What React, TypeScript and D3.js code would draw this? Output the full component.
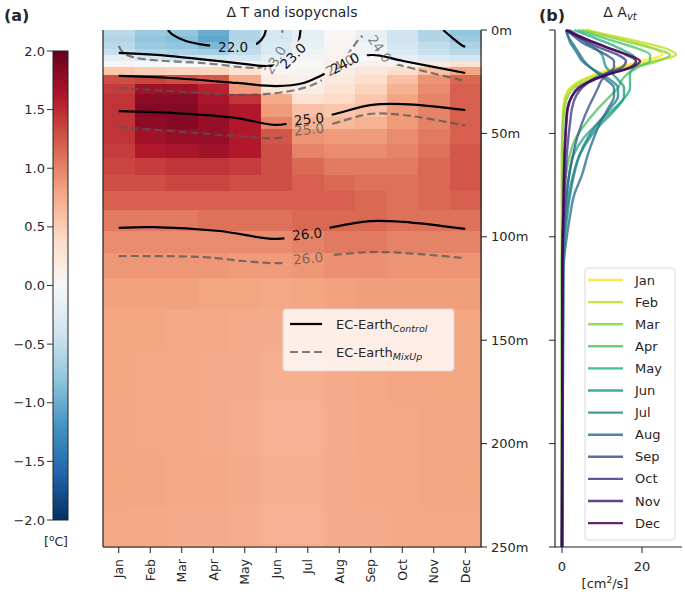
import React from 'react'
import * as d3 from 'd3'

// ---- data ----
const months = ['Jan', 'Feb', 'Mar', 'Apr', 'May', 'Jun', 'Jul', 'Aug', 'Sep', 'Oct', 'Nov', 'Dec']
const depthTicks = [0, 50, 100, 150, 200, 250]
const cbarTicks = [2.0, 1.5, 1.0, 0.5, 0.0, -0.5, -1.0, -1.5, -2.0]
const profTicks = [0, 20]

// heatmap rows (depth edges in m) and ΔT per month
const depthEdges = [0, 3, 6, 9, 12, 15, 18, 22, 26, 31, 36, 42, 48, 55, 62, 70, 78, 87, 97, 108, 120, 135, 155, 180, 205, 230, 250]
const dT = [
  [-0.55, -0.75, -0.8, -1.0, -0.6, -0.35, -0.2, 0.0, -0.15, -0.4, -0.6, -0.8],
  [-0.6, -0.8, -0.85, -1.05, -0.6, -0.35, -0.2, 0.02, -0.15, -0.4, -0.6, -0.75],
  [-0.55, -0.75, -0.8, -0.9, -0.55, -0.3, -0.15, 0.05, -0.1, -0.35, -0.5, -0.65],
  [-0.45, -0.6, -0.65, -0.7, -0.5, -0.3, -0.1, 0.05, -0.1, -0.3, -0.45, -0.55],
  [-0.2, -0.35, -0.4, -0.4, -0.35, -0.2, -0.05, 0.08, 0.0, -0.2, -0.3, -0.35],
  [0.05, 0.0, 0.0, 0.0, -0.05, -0.1, 0.0, 0.1, 0.1, 0.1, 0.2, 0.3],
  [0.55, 0.5, 0.45, 0.45, 0.3, 0.05, 0.05, 0.15, 0.25, 0.35, 0.6, 0.8],
  [1.3, 1.35, 1.3, 1.25, 0.75, 0.15, 0.1, 0.2, 0.35, 0.6, 0.9, 1.15],
  [1.4, 1.7, 1.7, 1.55, 0.85, 0.25, 0.15, 0.3, 0.45, 0.7, 0.95, 1.2],
  [1.45, 1.8, 1.8, 1.65, 1.45, 0.75, 0.3, 0.4, 0.55, 0.8, 1.0, 1.2],
  [1.45, 1.85, 1.85, 1.7, 1.6, 0.85, 0.6, 0.55, 0.6, 0.85, 1.0, 1.2],
  [1.45, 1.8, 1.85, 1.75, 1.6, 1.0, 0.7, 0.65, 0.7, 0.85, 1.0, 1.2],
  [1.45, 1.7, 1.75, 1.75, 1.6, 1.25, 0.9, 0.85, 0.85, 0.95, 1.05, 1.2],
  [1.4, 1.6, 1.65, 1.7, 1.6, 1.3, 1.0, 0.95, 0.95, 1.0, 1.1, 1.25],
  [1.35, 1.4, 1.45, 1.45, 1.4, 1.3, 1.15, 1.05, 1.05, 1.05, 1.15, 1.25],
  [1.3, 1.3, 1.35, 1.35, 1.3, 1.3, 1.2, 1.15, 1.1, 1.1, 1.15, 1.25],
  [1.2, 1.2, 1.2, 1.2, 1.2, 1.2, 1.2, 1.2, 1.15, 1.1, 1.15, 1.2],
  [1.05, 1.05, 1.05, 1.1, 1.1, 1.1, 1.15, 1.15, 1.15, 1.1, 1.1, 1.1],
  [0.95, 0.95, 0.95, 0.95, 0.95, 0.95, 1.0, 1.05, 1.05, 1.0, 1.0, 1.0],
  [0.88, 0.88, 0.88, 0.88, 0.85, 0.85, 0.88, 0.92, 0.92, 0.9, 0.9, 0.9],
  [0.82, 0.82, 0.82, 0.8, 0.8, 0.78, 0.8, 0.82, 0.84, 0.84, 0.84, 0.84],
  [0.8, 0.8, 0.78, 0.78, 0.76, 0.75, 0.76, 0.78, 0.8, 0.8, 0.8, 0.8],
  [0.8, 0.78, 0.77, 0.76, 0.75, 0.72, 0.72, 0.76, 0.78, 0.79, 0.8, 0.8],
  [0.79, 0.78, 0.77, 0.76, 0.74, 0.71, 0.71, 0.75, 0.77, 0.78, 0.79, 0.79],
  [0.8, 0.79, 0.78, 0.77, 0.75, 0.72, 0.72, 0.76, 0.77, 0.78, 0.79, 0.8],
  [0.78, 0.77, 0.76, 0.76, 0.74, 0.71, 0.71, 0.75, 0.76, 0.77, 0.78, 0.78],
]

// isopycnals as [month index, depth m]
const ctl22a = [[1.56, 0], [1.72, 2.4], [2.13, 5.3], [2.77, 7.3], [3.2, 7.9], [3.63, 8.2], [4.1, 7.8], [4.42, 6.3], [4.61, 2.9], [4.67, 0]]
const ctl22b = [[10.3, 0], [10.52, 2.9], [10.93, 7.7], [11, 8]]
const ctl23 = [[0, 11.1], [1.65, 12.6], [3.75, 16], [4.7, 17.4], [5.2, 16.5], [5.53, 12.5], [5.72, 5], [5.77, 0]]
const ctl24 = [[0, 22.2], [1.65, 23.2], [3.75, 25.6], [5, 27.1], [5.87, 25.6], [6.4, 22.2], [7.18, 16], [8, 12.1], [9.03, 15], [11, 20.8]]
const ctl25 = [[0, 39.2], [1.65, 40.1], [3.75, 42.6], [5, 45.9], [6.04, 43], [6.87, 40.6], [7.98, 36.3], [9.03, 35.8], [11, 38.7]]
const ctl26 = [[0, 95.7], [1.1, 95.3], [3.2, 97.2], [5, 101], [5.98, 98.6], [6.8, 95.3], [7.98, 92.4], [9.03, 92.8], [11, 96.2]]
const mix23 = [[0, 7.7], [0.15, 11.1], [0.55, 13.5], [2.7, 16], [4.6, 17.9], [4.96, 14.5], [5.12, 7], [5.2, 0]]
const mix24 = [[0, 28], [1.65, 29.5], [3.75, 31.4], [5, 30.5], [5.87, 28], [6.4, 24.7], [7.02, 17], [7.45, 8], [7.75, 3], [8.05, 6], [8.29, 11], [8.45, 15], [9.03, 17.4], [11, 24.7]]
const mix25 = [[0, 47], [1.65, 48.8], [3.75, 51.3], [5.1, 52.2], [6.04, 48], [6.75, 45.5], [7.98, 40.6], [9.03, 41.1], [11, 46.2]]
const mix26 = [[0, 109.3], [2.7, 109.8], [3.95, 111.7], [5.1, 112.7], [6.01, 110.3], [6.8, 108.8], [7.98, 107.4], [9.03, 107.8], [11, 110.3]]
const ctlLines = [ctl22a, ctl22b, ctl23, ctl24, ctl25, ctl26]
const mixLines = [mix23, mix24, mix25, mix26]

// contour labels: text, month, depth, angle
const ctlLabels: [string, number, number, number][] = [
  ['22.0', 3.63, 8.2, 0], ['23.0', 5.53, 12.5, -45], ['24.0', 7.18, 16, -28], ['25.0', 6.04, 43, -6], ['26.0', 5.98, 98.6, -6],
]
const mixLabels: [string, number, number, number][] = [
  ['23.0', 4.96, 14.5, -60], ['24.0', 7.02, 17, -28], ['24.0', 8.29, 9, 55], ['25.0', 6.04, 48, -6], ['26.0', 6.01, 110.3, -5],
]

// ΔA_vt profiles
const profDepths = [0, 3, 6, 9, 12, 15, 18, 21, 24, 28, 32, 38, 45, 52, 60, 70, 80, 90, 100, 115, 250]
const avtJan = [6, 12, 18, 23, 25, 20, 14, 9, 5, 2, 0.8, 0.3, 0.1, 0, 0, 0, 0, 0, 0, 0, 0]
const avtFeb = [6, 13, 20, 26, 28.5, 23, 16, 10, 5.5, 2.2, 1, 0.4, 0.2, 0.1, 0, 0, 0, 0, 0, 0, 0]
const avtMar = [5, 11, 17, 23, 27, 24, 18, 12, 7, 3, 1.5, 0.6, 0.3, 0.1, 0, 0, 0, 0, 0, 0, 0]
const avtApr = [4, 9, 14, 19, 22, 22, 19, 16.5, 15, 14, 12, 9, 6, 3.5, 2, 1, 0.5, 0.3, 0.1, 0, 0]
const avtMay = [3, 7, 11, 14.5, 17.5, 18.5, 18, 17, 17, 17, 16, 13, 9, 5.5, 3, 1.8, 1, 0.5, 0.2, 0, 0]
const avtJun = [2, 4, 6, 8.5, 10, 10.5, 11, 12.5, 14, 15.5, 15.5, 13.5, 10, 7, 4.5, 2.8, 1.7, 1, 0.5, 0.2, 0]
const avtJul = [1, 1.5, 2, 3, 4, 5, 7, 9.5, 12, 14, 14, 12, 9, 6.5, 4.5, 3, 2, 1.3, 0.7, 0.3, 0]
const avtAug = [1, 1.5, 2.5, 3.5, 4.5, 5.5, 7, 9, 11, 13, 13, 11.5, 9.5, 8, 6.5, 5, 3, 2, 1.2, 0.4, 0]
const avtSep = [1, 3, 5, 8, 11, 13, 13, 11.5, 10, 9, 8, 6.5, 5, 3.8, 2.8, 1.8, 1.2, 0.7, 0.4, 0.1, 0]
const avtOct = [1, 3.5, 6.5, 10, 14, 16, 15, 11, 7.5, 5, 3.5, 2.5, 2, 1.6, 1.2, 0.9, 0.6, 0.4, 0.2, 0.1, 0]
const avtNov = [1.5, 4.5, 8, 12, 16, 18.5, 17, 12, 8, 4.5, 2.5, 1.5, 1.1, 0.9, 0.7, 0.5, 0.4, 0.3, 0.2, 0.1, 0]
const avtDec = [1, 4, 8, 12, 16.5, 19.5, 17.5, 12.5, 8, 4, 2.5, 1.3, 1, 0.8, 0.6, 0.5, 0.4, 0.3, 0.2, 0.1, 0]
const avt = [avtJan, avtFeb, avtMar, avtApr, avtMay, avtJun, avtJul, avtAug, avtSep, avtOct, avtNov, avtDec]

const rdbu = ['#053061', '#2166ac', '#4393c3', '#92c5de', '#d1e5f0', '#f7f7f7', '#fddbc7', '#f4a582', '#d6604d', '#b2182b', '#67001f']
const font = 'DejaVu Sans'
const ink = '#262626'

export default function App() {
  const xM = d3.scaleLinear().domain([-0.5, 11.5]).range([103, 481])
  const yD = d3.scaleLinear().domain([0, 250]).range([30, 547])
  const xB = d3.scaleLinear().domain([-1.75, 30]).range([555, 682])
  const yC = d3.scaleLinear().domain([-2, 2]).range([520, 51])
  const col = d3.scaleLinear<string>().domain(d3.range(11).map((i) => -2 + 0.4 * i)).range(rdbu).clamp(true)
  const monthColor = (i: number) => d3.interpolateViridis(1 - i / 11)

  const cLine = d3.line<number[]>().x((p) => xM(p[0])).y((p) => yD(p[1])).curve(d3.curveCatmullRom.alpha(0.5))
  const pLine = d3.line<number>().x((v) => xB(v)).y((_, i) => yD(profDepths[i])).curve(d3.curveMonotoneY)

  const maskRects = (labels: [string, number, number, number][]) =>
    labels.map(([t, m, d, r], i) => (
      <rect key={i} x={-23} y={-7} width={46} height={14} fill="black"
        transform={`translate(${xM(m)},${yD(d)}) rotate(${r})`} />
    ))
  const labelTexts = (labels: [string, number, number, number][], fill: string) =>
    labels.map(([t, m, d, r], i) => (
      <text key={i} transform={`translate(${xM(m)},${yD(d)}) rotate(${r})`} textAnchor="middle"
        dominantBaseline="central" fontSize={13.5} fill={fill}>{t}</text>
    ))

  return (
    <div style={{ position: 'absolute', left: 0, top: 0 }}>
      <svg width={685} height={602} fontFamily={font} style={{ display: 'block', background: 'white' }}>
        <defs>
          <linearGradient id="cbar" x1="0" y1="1" x2="0" y2="0">
            {rdbu.map((c, i) => <stop key={i} offset={i / 10} stopColor={c} />)}
          </linearGradient>
          <clipPath id="hm"><rect x={103} y={30} width={378} height={517} /></clipPath>
          <mask id="mCtl" maskUnits="userSpaceOnUse" x={0} y={0} width={685} height={602}>
            <rect x={0} y={0} width={685} height={602} fill="white" />
            {maskRects(ctlLabels)}
          </mask>
          <mask id="mMix" maskUnits="userSpaceOnUse" x={0} y={0} width={685} height={602}>
            <rect x={0} y={0} width={685} height={602} fill="white" />
            {maskRects(mixLabels)}
          </mask>
        </defs>

        {/* panel labels and titles */}
        <text x={4} y={21} fontSize={16} fontWeight="bold" fill={ink}>(a)</text>
        <text x={292} y={17} fontSize={14} textAnchor="middle" fill={ink}>Δ T and isopycnals</text>
        <text x={539} y={21} fontSize={16} fontWeight="bold" fill={ink}>(b)</text>
        <text x={620} y={17} fontSize={14} textAnchor="middle" fill={ink}>
          Δ A<tspan fontSize={10} fontStyle="italic" dy={3}>vt</tspan>
        </text>

        {/* colorbar */}
        <rect x={53} y={yC(2)} width={15} height={yC(-2) - yC(2)} fill="url(#cbar)" stroke="#222" strokeWidth={1} />
        {cbarTicks.map((t) => (
          <g key={t}>
            <line x1={47} x2={53} y1={yC(t)} y2={yC(t)} stroke="#333" />
            <text x={45} y={yC(t)} fontSize={13} textAnchor="end" dominantBaseline="central" fill={ink}>
              {t < 0 ? '\u2212' + Math.abs(t).toFixed(1) : t.toFixed(1)}
            </text>
          </g>
        ))}
        <text x={56} y={546} fontSize={12.5} textAnchor="middle" fill={ink}>
          [<tspan fontSize={9} dy={-5}>o</tspan><tspan dy={5}>C]</tspan>
        </text>

        {/* heatmap */}
        <g shapeRendering="crispEdges">
          {dT.map((row, r) => row.map((v, m) => (
            <rect key={`${r}-${m}`} x={xM(m - 0.5)} y={yD(depthEdges[r])}
              width={xM(m + 0.5) - xM(m - 0.5) + 0.6} height={yD(depthEdges[r + 1]) - yD(depthEdges[r]) + 0.6}
              fill={col(v)} />
          )))}
        </g>

        {/* isopycnals */}
        <g clipPath="url(#hm)">
          <g mask="url(#mMix)">
            {mixLines.map((l, i) => (
              <path key={i} d={cLine(l) || ''} fill="none" stroke="#555" strokeOpacity={0.75} strokeWidth={2.2} strokeDasharray="8,4" />
            ))}
          </g>
          <g mask="url(#mCtl)">
            {ctlLines.map((l, i) => (
              <path key={i} d={cLine(l) || ''} fill="none" stroke="#000" strokeWidth={2.2} />
            ))}
          </g>
          {labelTexts(mixLabels, 'rgba(85,85,85,0.75)')}
          {labelTexts(ctlLabels, '#111')}
        </g>

        {/* legend (a) */}
        <rect x={283} y={309} width={171} height={62} rx={3} fill="white" fillOpacity={0.8} stroke="#d8d8d8" />
        <line x1={290} x2={322} y1={324} y2={324} stroke="#000" strokeWidth={2.2} />
        <text x={336} y={329} fontSize={13} fill={ink}>EC-Earth<tspan fontSize={9.5} fontStyle="italic" dy={3}>Control</tspan></text>
        <line x1={290} x2={322} y1={352} y2={352} stroke="#555" strokeOpacity={0.75} strokeWidth={2.2} strokeDasharray="8,4" />
        <text x={336} y={357} fontSize={13} fill={ink}>EC-Earth<tspan fontSize={9.5} fontStyle="italic" dy={3}>MixUp</tspan></text>

        {/* frame and axes (a) */}
        <line x1={103} x2={103} y1={30} y2={547} stroke="#222" strokeWidth={1.2} />
        <line x1={103} x2={481} y1={547} y2={547} stroke="#222" strokeWidth={1.2} />
        <line x1={481} x2={481} y1={30} y2={547} stroke="#222" strokeWidth={1.2} />
        {months.map((mn, i) => (
          <g key={mn}>
            <line x1={xM(i)} x2={xM(i)} y1={547} y2={553} stroke="#222" />
            <text transform={`translate(${xM(i)},559) rotate(-90)`} textAnchor="end" dominantBaseline="central"
              fontSize={12.5} fill={ink}>{mn}</text>
          </g>
        ))}
        {depthTicks.map((d) => (
          <g key={d}>
            <line x1={481} x2={487} y1={yD(d)} y2={yD(d)} stroke="#222" />
            <text x={491} y={yD(d)} fontSize={13} dominantBaseline="central" fill={ink}>{d}m</text>
          </g>
        ))}

        {/* panel b: profiles */}
        {avt.map((vals, i) => (
          <path key={i} d={pLine(vals) || ''} fill="none" stroke={monthColor(i)} strokeWidth={2.4} strokeOpacity={0.8} />
        ))}
        <line x1={555} x2={555} y1={30} y2={547} stroke="#222" strokeWidth={1.2} />
        <line x1={555} x2={682} y1={547} y2={547} stroke="#222" strokeWidth={1.2} />
        {depthTicks.map((d) => (
          <line key={d} x1={549} x2={555} y1={yD(d)} y2={yD(d)} stroke="#222" />
        ))}
        {profTicks.map((t) => (
          <g key={t}>
            <line x1={xB(t)} x2={xB(t)} y1={547} y2={553} stroke="#222" />
            <text x={xB(t)} y={566} fontSize={13} textAnchor="middle" dominantBaseline="central" fill={ink}>{t}</text>
          </g>
        ))}
        <text x={605} y={588} fontSize={13} textAnchor="middle" fill={ink}>
          [cm<tspan fontSize={9} dy={-5}>2</tspan><tspan dy={5}>/s]</tspan>
        </text>

        {/* legend (b) */}
        <rect x={585} y={268} width={90} height={272} rx={3} fill="white" fillOpacity={0.8} stroke="#d8d8d8" />
        {months.map((mn, i) => (
          <g key={mn}>
            <line x1={588} x2={623} y1={280 + i * 22.1} y2={280 + i * 22.1} stroke={monthColor(i)} strokeWidth={2.4} strokeOpacity={0.85} />
            <text x={635} y={280 + i * 22.1} fontSize={13} dominantBaseline="central" fill={ink}>{mn}</text>
          </g>
        ))}
      </svg>
    </div>
  )
}
